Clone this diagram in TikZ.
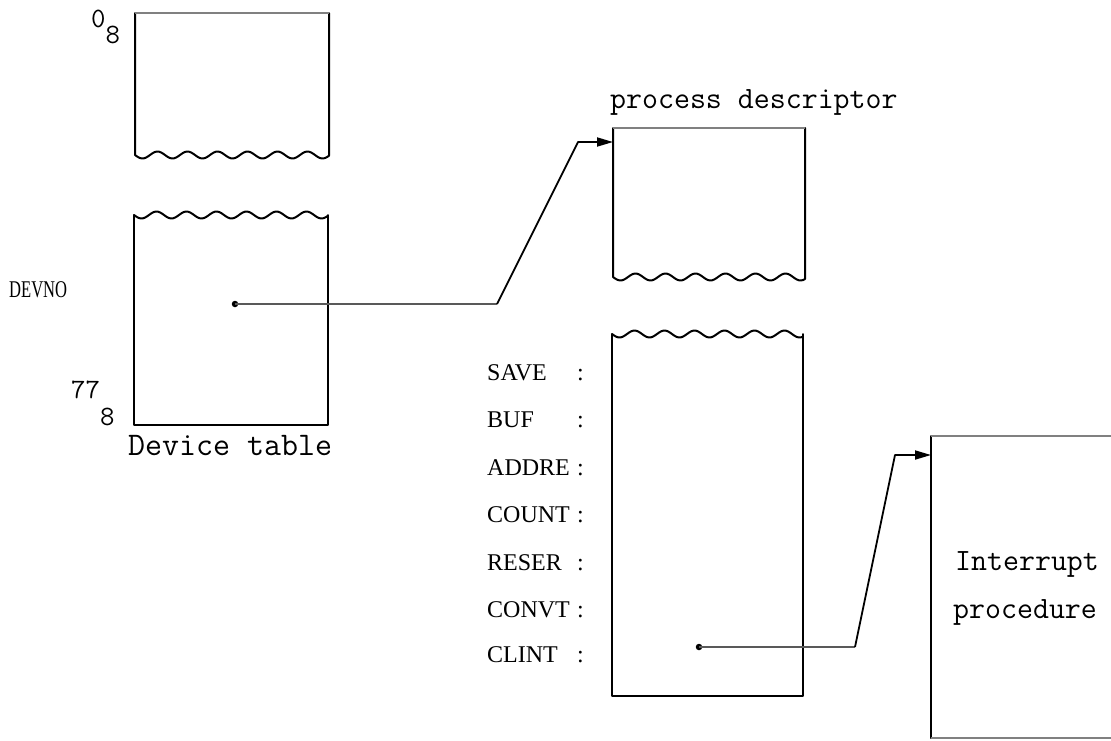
\documentclass[tikz,border=0pt]{standalone}
\usepackage{fontspec}
\usepackage{graphicx}
\newfontfamily\lblfont{Liberation Serif}
\usetikzlibrary{arrows.meta}
\begin{document}
\begin{tikzpicture}[x=1pt,y=-1pt,
  boxline/.style={line width=2pt, black, line join=round, line cap=round},
  faint/.style={line width=1.3pt, black!50},
  conn/.style={line width=1.8pt, black, line join=round},
  hconn/.style={line width=1.1pt, black!65},
  dotnode/.style={circle, fill=black, inner sep=0pt, minimum size=6.5pt},
  mono/.style={font=\fontsize{31}{36}\selectfont\ttfamily, inner sep=0pt, anchor=base west},
  lbl/.style={font=\lblfont\fontsize{24}{28}\selectfont, inner sep=0pt, anchor=base west},
  tip/.style={-{Triangle[length=16pt,width=9pt]}}
]
\useasboundingbox (0,0) rectangle (1111,740);

% Box A (device table, top part)
\draw[boxline] (135,13) -- (135,155) -- plot[smooth, domain=135:329, samples=90] (\x,{155+3.5*sin((\x-135)*12)}) -- (329,13);
\draw[faint] (135,13) -- (329,13);

% Box B (device table, lower part)
\draw[boxline] plot[smooth, domain=134:328, samples=90] (\x,{215+3.5*sin((\x-134)*12)});
\draw[boxline] (134,215) -- (134,425) -- (328,425) -- (328,215);

% Box C (process descriptor, top part)
\draw[boxline] (613,128) -- (613,277) -- plot[smooth, domain=613:805, samples=90] (\x,{277+3.5*sin((\x-613)*12)}) -- (805,128);
\draw[faint] (613,128) -- (805,128);

% Box D (process descriptor, lower part)
\draw[boxline] plot[smooth, domain=612:803, samples=90] (\x,{334+3.5*sin((\x-612)*12)});
\draw[boxline] (612,334) -- (612,696) -- (803,696) -- (803,334);

% Box E (interrupt procedure)
\draw[boxline] (931,436) -- (931,738);
\draw[faint] (931,436) -- (1111,436);
\draw[faint] (931,738) -- (1111,738);

% texts
\node[font=\fontsize{28}{30}\selectfont\ttfamily, inner sep=0pt, anchor=base west] (zero) at (91,27) {0\raisebox{-16pt}{8}};
\node[font=\fontsize{28}{30}\selectfont\ttfamily, inner sep=0pt, anchor=base west] (seven) at (71,398) {77\raisebox{-27pt}{8}};
\node[lbl] (devno) at (9,297) {\scalebox{0.69}[1]{DEVNO}};
\node[mono, font=\fontsize{33}{36}\selectfont\ttfamily] (dtab) at (128,455) {Device table};
\node[mono] (pdesc) at (610,108) {process descriptor};
\node[mono] (intr) at (955,570) {Interrupt};
\node[mono] (proc) at (953,618) {procedure};

\node[lbl] (lsave) at (487,380) {\makebox[90pt][l]{SAVE}:};
\node[lbl] (lbuf) at (487,427.5) {\makebox[90pt][l]{BUF}:};
\node[lbl] (laddre) at (487,475) {\makebox[90pt][l]{ADDRE}:};
\node[lbl] (lcount) at (487,522.5) {\makebox[90pt][l]{COUNT}:};
\node[lbl] (lreser) at (487,570) {\makebox[90pt][l]{RESER}:};
\node[lbl] (lconvt) at (487,617.5) {\makebox[90pt][l]{CONVT}:};
\node[lbl] (lclint) at (487,662) {\makebox[90pt][l]{CLINT}:};

% connector 1
\node[dotnode] (dot1) at (235,304) {};
\coordinate (k1) at (497,304);
\coordinate (k2) at (578,142);
\coordinate (pdin) at (613,142);
\draw[hconn] (dot1.center) -- (k1);
\draw[conn, tip] (k1) -- (k2) -- (pdin);

% connector 2
\node[dotnode] (dot2) at (699,647) {};
\coordinate (k3) at (855,647);
\coordinate (k4) at (895,455);
\coordinate (ipin) at (931,455);
\draw[hconn] (dot2.center) -- (k3);
\draw[conn, tip] (k3) -- (k4) -- (ipin);
\end{tikzpicture}
\end{document}
